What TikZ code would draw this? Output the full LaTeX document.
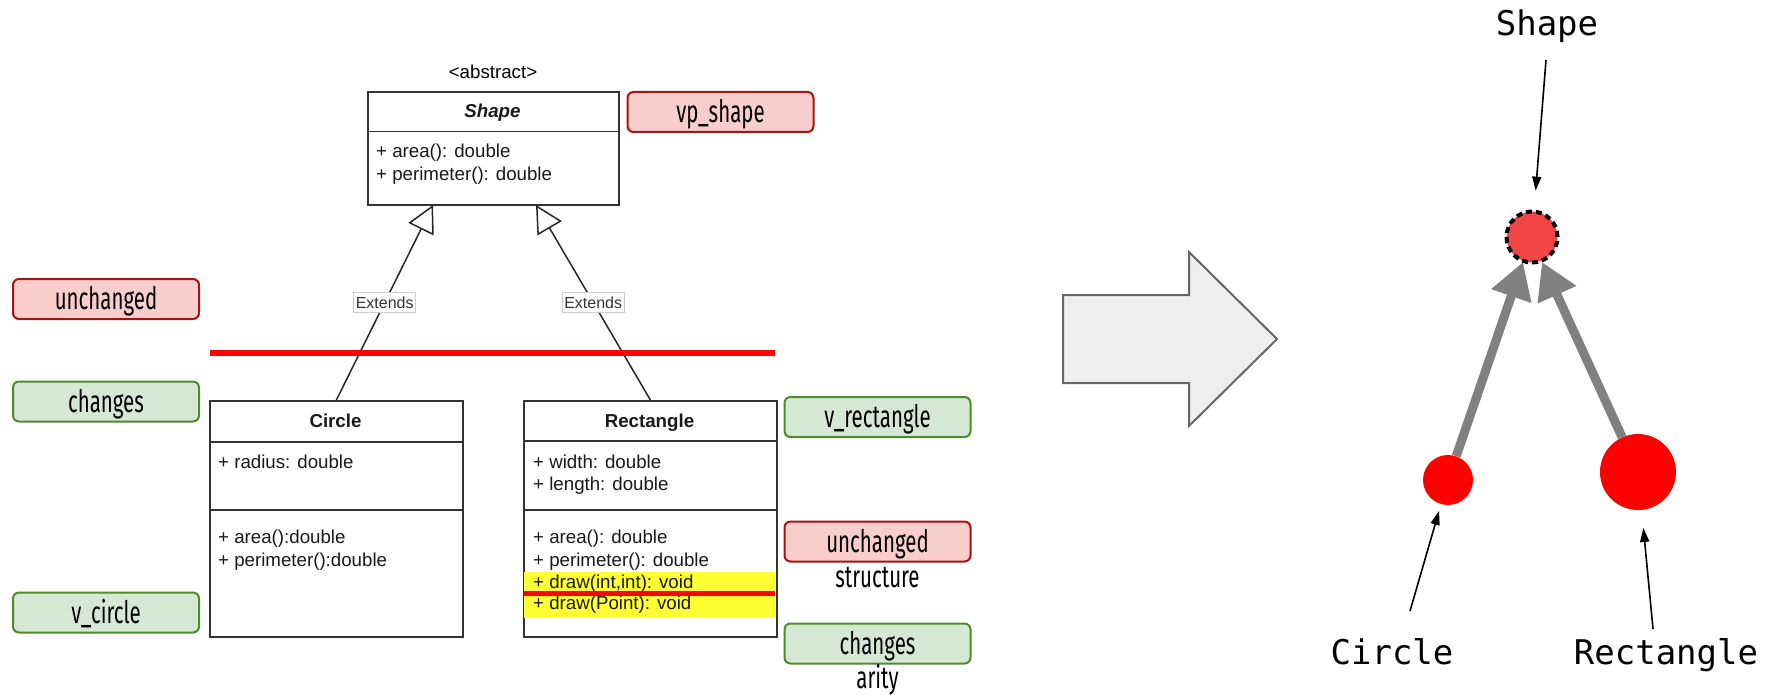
\documentclass[tikz,border=0pt]{standalone}
\usepackage{fontspec}
\setmainfont{Liberation Sans}
\newfontfamily\condfont[FakeStretch=0.66]{Fira Sans}
\newfontfamily\codefont{DejaVu Sans Mono}
\usetikzlibrary{arrows.meta,shapes.geometric}

\definecolor{umlline}{HTML}{333333}
\definecolor{redfill}{HTML}{F8CECC}
\definecolor{redline}{HTML}{AA1111}
\definecolor{greenfill}{HTML}{D5E8D4}
\definecolor{greenline}{HTML}{4F8A2B}
\definecolor{hilite}{HTML}{FFFF33}
\definecolor{bigarrowfill}{HTML}{EEEEEE}
\definecolor{bigarrowline}{HTML}{666666}
\definecolor{abstractred}{HTML}{F24545}
\definecolor{edgegray}{HTML}{808080}

\tikzset{
  tag/.style={rounded corners=6pt, line width=2pt, minimum width=186pt,
    minimum height=40pt, inner sep=0pt, text height=21pt, text depth=0pt,
    font=\condfont\fontsize{31}{31}\selectfont},
  redtag/.style={tag, fill=redfill, draw=redline},
  greentag/.style={tag, fill=greenfill, draw=greenline},
  note/.style={inner sep=0pt, anchor=base, font=\condfont\fontsize{31}{31}\selectfont},
  umlbox/.style={draw=umlline, line width=1.8pt, fill=white, inner sep=0pt, anchor=north west},
  umlrule/.style={draw=umlline, line width=1.8pt},
  umltext/.style={inner sep=0pt, anchor=base west, text=black!90, font=\fontsize{18.7}{22}\selectfont},
  umltitle/.style={inner sep=0pt, anchor=base, text=black!90, font=\fontsize{18.7}{22}\selectfont\bfseries},
  ext/.style={draw=black!85, line width=1.5pt, -{Triangle[open, length=27pt, width=28pt, fill=white]}},
  extlabel/.style={fill=white, draw=black!20, line width=0.6pt, inner xsep=2pt, inner ysep=4pt,
    text=umlline, font=\fontsize{16}{16}\selectfont},
  strike/.style={draw=red, line width=6pt},
  edge/.style={draw=edgegray, line width=9pt, -{Triangle[length=36pt, width=40pt]}},
  ptr/.style={draw=black, line width=1.6pt, -{Triangle[length=14pt, width=9pt]}},
  codelabel/.style={inner sep=0pt, anchor=base, font=\codefont\fontsize{34}{34}\selectfont},
}

\begin{document}
\begin{tikzpicture}[x=1pt, y=-1pt]
\useasboundingbox (0,0) rectangle (1772,695);

% ---------- abstract base class ----------
\node[inner sep=0pt, anchor=base, font=\fontsize{18.7}{22}\selectfont] (abs) at (493,79) {<abstract>};
\node[umlbox, minimum width=251pt, minimum height=113pt] (shape) at (367,91) {};
\draw[umlrule] ([yshift=-40.5pt]shape.north west) -- ([yshift=-40.5pt]shape.north east);
\node[umltitle] (shapeT) at (492.5,118) {\textit{Shape}};
\node[umltext] (shapeM1) at (376,158) {+ area(): double};
\node[umltext] (shapeM2) at (376,181) {+ perimeter(): double};

% ---------- Circle ----------
\node[umlbox, minimum width=253pt, minimum height=236pt] (circ) at (209,400) {};
\draw[umlrule] ([yshift=-42pt]circ.north west) -- ([yshift=-42pt]circ.north east);
\draw[umlrule] ([yshift=-110pt]circ.north west) -- ([yshift=-110pt]circ.north east);
\node[umltitle] (circT) at (335.5,427) {Circle};
\node[umltext] (circA1) at (218,468) {+ radius: double};
\node[umltext] (circM1) at (218,543) {+ area():double};
\node[umltext] (circM2) at (218,566) {+ perimeter():double};

% ---------- Rectangle ----------
\node[umlbox, minimum width=253pt, minimum height=236pt] (rect) at (523,400) {};
\draw[umlrule] ([yshift=-41pt]rect.north west) -- ([yshift=-41pt]rect.north east);
\draw[umlrule] ([yshift=-110pt]rect.north west) -- ([yshift=-110pt]rect.north east);
\fill[hilite] (524,572) rectangle (775,618);
\node[umltitle] (rectT) at (649.5,427) {Rectangle};
\node[umltext] (rectA1) at (533,468) {+ width: double};
\node[umltext] (rectA2) at (533,490) {+ length: double};
\node[umltext] (rectM1) at (533,543) {+ area(): double};
\node[umltext] (rectM2) at (533,566) {+ perimeter(): double};
\node[umltext] (rectM3) at (533,588) {+ draw(int,int): void};
\node[umltext] (rectM4) at (533,609) {+ draw(Point): void};
\draw[draw=red, line width=5pt] (524,593) -- (775,593);

% ---------- inheritance ----------
\coordinate (shapeL) at (433,205);
\coordinate (shapeR) at (536,205);
\draw[ext] (circ.north) -- node[extlabel] (extL) {Extends} (shapeL);
\draw[ext] (rect.north) -- node[extlabel] (extR) {Extends} (shapeR);

% boundary between stable and varying parts
\draw[strike] (210,353) -- (775,353);

% ---------- tags ----------
\node[redtag] (tVp) at (720.5,112) {vp\_shape};
\node[redtag] (tUnL) at (106,299) {unchanged};
\node[greentag] (tChL) at (106,401.5) {changes};
\node[greentag] (tVc) at (106,612.5) {v\_circle};
\node[greentag] (tVr) at (877.5,417) {v\_rectangle};
\node[redtag] (tUnR) at (877.5,541.5) {unchanged};
\node[note] (nStruct) at (877.5,587) {structure};
\node[greentag] (tChR) at (877.5,643.5) {changes};
\node[note] (nArity) at (877.5,688) {arity};

% ---------- transformation arrow ----------
\draw[fill=bigarrowfill, draw=bigarrowline, line width=2pt]
  (1063,295) -- (1189,295) -- (1189,252) -- (1277,339) -- (1189,426) -- (1189,383) -- (1063,383) -- cycle;

% ---------- variability graph ----------
\node[circle, minimum size=51pt, inner sep=0pt, fill=abstractred, draw=black,
      line width=4pt, dash pattern=on 6pt off 4pt] (sn) at (1532,237) {};
\node[circle, minimum size=50pt, inner sep=0pt, fill=red] (cn) at (1448,480) {};
\node[circle, minimum size=76pt, inner sep=0pt, fill=red] (rn) at (1638,472) {};

\coordinate (tipL) at (1523,262);
\coordinate (tipR) at (1542,262);
\draw[edge] (cn) -- (tipL);
\draw[edge] (rn) -- (tipR);

\node[codelabel] (sLab) at (1547,35.5) {Shape};
\node[codelabel] (cLab) at (1392,664) {Circle};
\node[codelabel] (rLab) at (1666,664) {Rectangle};

\coordinate (sPtr) at (1546,60);
\coordinate (cPtr) at (1410,611);
\coordinate (rPtr) at (1653,629);
\draw[ptr, shorten >=19pt] (sPtr) -- (sn);
\draw[ptr, shorten >=7pt] (cPtr) -- (cn);
\draw[ptr, shorten >=18pt] (rPtr) -- (rn);
\end{tikzpicture}
\end{document}
